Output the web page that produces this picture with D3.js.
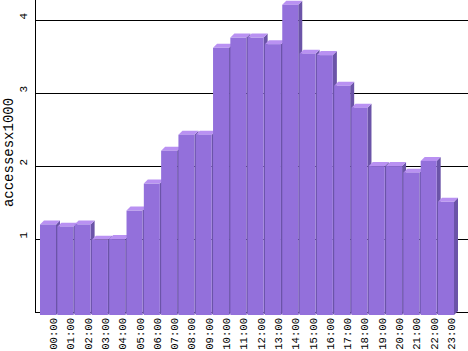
<!DOCTYPE html>
<html>
<head>
<meta charset="utf-8">
<script src="https://cdn.jsdelivr.net/npm/d3@7"></script>
<style>
  html, body { margin: 0; padding: 0; background: #fff; }
  svg { display: block; }
  text { font-family: "Liberation Mono", "DejaVu Sans Mono", monospace; fill: #000; }
</style>
</head>
<body>
<svg id="chart" width="468" height="351"></svg>
<script>
const hours = ["00:00","01:00","02:00","03:00","04:00","05:00","06:00","07:00","08:00","09:00","10:00","11:00",
               "12:00","13:00","14:00","15:00","16:00","17:00","18:00","19:00","20:00","21:00","22:00","23:00"];
const accesses = [1.24, 1.21, 1.24, 1.03, 1.04, 1.43, 1.80, 2.25, 2.47, 2.47, 3.66, 3.80,
                  3.80, 3.71, 4.25, 3.58, 3.56, 3.14, 2.84, 2.04, 2.04, 1.95, 2.11, 1.55];
const yTicks = [1, 2, 3, 4];
const yTitle = "accessesx1000";

const W = 468, H = 351;
const svg = d3.select("#chart");

const y = d3.scaleLinear().domain([0, 4]).range([312, 20]);
const x = d3.scaleBand().domain(hours).range([40, 454]).paddingInner(0.075).paddingOuter(0);

const axisX = 35.5;
const depth = 4;   // 3D offset
const drop = 3;    // front face drop relative to back plane

// gridlines (back plane)
svg.append("g").selectAll("line").data([0].concat(yTicks)).join("line")
  .attr("x1", axisX).attr("x2", W)
  .attr("y1", d => Math.round(y(d)) + 0.5).attr("y2", d => Math.round(y(d)) + 0.5)
  .attr("stroke", "#000").attr("stroke-width", 1);

// y axis line
svg.append("line")
  .attr("x1", axisX).attr("x2", axisX).attr("y1", 0).attr("y2", Math.round(y(0)) + 1)
  .attr("stroke", "#000").attr("stroke-width", 1);

// bars
const bw = x.bandwidth();
const bars = svg.append("g").selectAll("g").data(hours).join("g");
bars.each(function(h, i) {
  const g = d3.select(this);
  const x0 = x(h), x1 = x0 + bw;
  const yt = y(accesses[i]) + drop, yb = y(0) + drop;
  g.append("path")
    .attr("d", `M${x1},${yt} L${x1 + depth},${yt - depth} L${x1 + depth},${yb - depth} L${x1},${yb} Z`)
    .attr("fill", "#6b54a8");
  g.append("path")
    .attr("d", `M${x0},${yt} L${x0 + depth},${yt - depth} L${x1 + depth},${yt - depth} L${x1},${yt} Z`)
    .attr("fill", "#b991f2");
  g.append("rect")
    .attr("x", x0).attr("y", yt).attr("width", bw).attr("height", yb - yt)
    .attr("fill", "#9370db");
});

// y tick labels
svg.append("g").selectAll("text").data(yTicks).join("text")
  .attr("transform", d => `translate(26.5,${y(d) - 0.5}) rotate(-90)`)
  .attr("text-anchor", "start")
  .style("font-size", "11px")
  .text(d => d);

// x tick labels
svg.append("g").selectAll("text").data(hours).join("text")
  .attr("transform", h => `translate(${x(h) + 17},318) rotate(-90)`)
  .attr("text-anchor", "end")
  .style("font-size", "10.6px")
  .text(h => h);

// y title
svg.append("text")
  .attr("transform", "translate(13,152.5) rotate(-90)")
  .attr("text-anchor", "middle")
  .style("font-size", "14px")
  .text(yTitle);
</script>
</body>
</html>
